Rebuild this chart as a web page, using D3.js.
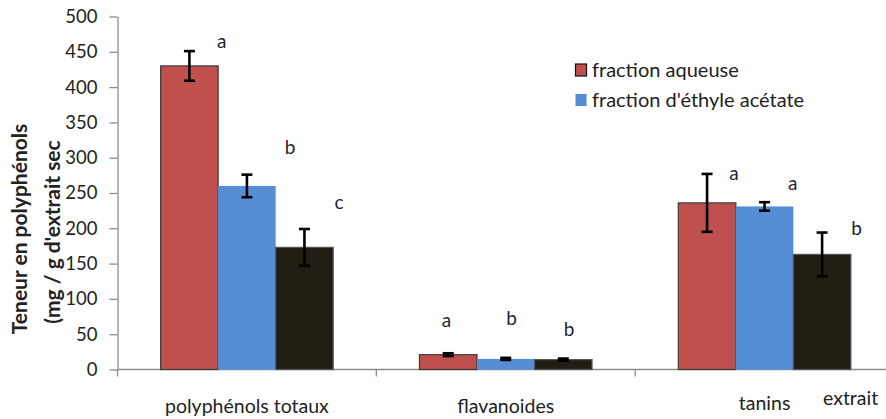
<!DOCTYPE html>
<html>
<head>
<meta charset="utf-8">
<script src="https://cdn.jsdelivr.net/npm/d3@7/dist/d3.min.js"></script>
<style>
  html, body { margin: 0; padding: 0; background: #fff; }
  svg { display: block; font-family: Lato, "Open Sans", sans-serif; }
</style>
</head>
<body>
<svg id="chart" width="886" height="419"></svg>
<script>
// Polyphenol content per extract fraction (mg / g dry extract)
const categories = ["polyphénols totaux", "flavanoides", "tanins"];
const seriesNames = ["fraction aqueuse", "fraction d'éthyle acétate", "extrait"];
const aqueuse = [430, 21, 236];
const ethyleAcetate = [260, 15, 231];
const extrait = [173, 14, 163];
const aqueuseErr = [21, 2, 41];
const ethyleAcetateErr = [16, 1.5, 6];
const extraitErr = [26, 1.5, 31];
// Significance letters and the value height at which each one sits
const aqueuseLetters = ["a", "a", "a"];
const ethyleAcetateLetters = ["b", "b", "a"];
const extraitLetters = ["c", "b", "b"];
const aqueuseLetterAt = [464, 70, 278];
const ethyleAcetateLetterAt = [315, 72, 263];
const extraitLetterAt = [236, 57, 200];
const yTicks = [0, 50, 100, 150, 200, 250, 300, 350, 400, 450, 500];

const series = [
  { name: seriesNames[0], values: aqueuse, err: aqueuseErr, letters: aqueuseLetters, letterAt: aqueuseLetterAt },
  { name: seriesNames[1], values: ethyleAcetate, err: ethyleAcetateErr, letters: ethyleAcetateLetters, letterAt: ethyleAcetateLetterAt },
  { name: seriesNames[2], values: extrait, err: extraitErr, letters: extraitLetters, letterAt: extraitLetterAt }
];
const fills = ["#C0504D", "#558ED5", "#211F14"];
const strokes = ["#3b3b3b", "none", "#555"];
// horizontal nudge of each letter from its bar centre, in bar widths
const letterShift = [[0.56, 0.75, 0.6], [-0.03, 0.1, 0.1], [0.47, 0.49, 0.6]];

const svg = d3.select("#chart");
const textColor = "#222";
const axisColor = "#8c8c8c";

const y = d3.scaleLinear().domain([0, 500]).range([369.5, 16.5]);
const x = d3.scaleBand().domain(categories).range([117.5, 894]).paddingInner(0).paddingOuter(0);
const xs = d3.scaleBand().domain(d3.range(series.length))
  .range([x.bandwidth() / 6, x.bandwidth() * 5 / 6]).padding(0);

// y axis
const yAxis = svg.append("g").attr("transform", `translate(${x.range()[0]},0)`)
  .call(d3.axisLeft(y).tickValues(yTicks).tickSize(8).tickPadding(12).tickSizeOuter(0));
yAxis.select(".domain").attr("stroke", axisColor).attr("stroke-width", 1.3);
yAxis.selectAll(".tick line").attr("stroke", axisColor).attr("stroke-width", 1.3);
yAxis.selectAll(".tick text").attr("fill", textColor).attr("font-size", 18.5).attr("font-family", "Lato, sans-serif");

// x axis baseline and category boundary ticks
const xAxis = svg.append("g").attr("transform", `translate(0,${y(0)})`);
xAxis.append("line").attr("x1", x.range()[0]).attr("x2", x.range()[1])
  .attr("stroke", axisColor).attr("stroke-width", 1.3);
const bounds = categories.map(c => x(c)).concat([x.range()[1]]);
xAxis.selectAll("line.b").data(bounds).join("line").attr("class", "b")
  .attr("x1", d => d).attr("x2", d => d).attr("y1", 0).attr("y2", 7)
  .attr("stroke", axisColor).attr("stroke-width", 1.3);
xAxis.selectAll("text.cat").data(categories).join("text").attr("class", "cat")
  .attr("x", d => x(d) + x.bandwidth() / 2)
  .attr("y", d => d === "tanins" ? 40 : 43)
  .attr("text-anchor", "middle").attr("fill", textColor).attr("font-size", 19.5)
  .text(d => d);

// bars
const groups = svg.append("g").selectAll("g").data(series).join("g");
groups.selectAll("rect").data((s, i) => s.values.map((v, j) => ({ v, j, i })))
  .join("rect")
  .attr("x", d => x(categories[d.j]) + xs(d.i))
  .attr("y", d => y(d.v))
  .attr("width", xs.bandwidth())
  .attr("height", d => y(0) - y(d.v))
  .attr("fill", d => fills[d.i])
  .attr("stroke", d => strokes[d.i])
  .attr("stroke-width", 1.2);

// error bars
const capHalf = 5.5;
const eb = svg.append("g").attr("stroke", "#000").attr("stroke-width", 2.6);
series.forEach((s, i) => {
  s.values.forEach((v, j) => {
    const cx = x(categories[j]) + xs(i) + xs.bandwidth() / 2;
    const top = y(v + s.err[j]), bot = y(v - s.err[j]);
    eb.append("line").attr("x1", cx).attr("x2", cx).attr("y1", top).attr("y2", bot);
    eb.append("line").attr("x1", cx - capHalf).attr("x2", cx + capHalf).attr("y1", top).attr("y2", top);
    eb.append("line").attr("x1", cx - capHalf).attr("x2", cx + capHalf).attr("y1", bot).attr("y2", bot);
  });
});

// significance letters
const lt = svg.append("g");
series.forEach((s, i) => {
  s.letters.forEach((l, j) => {
    const cx = x(categories[j]) + xs(i) + xs.bandwidth() / 2 + letterShift[j][i] * xs.bandwidth();
    lt.append("text").attr("x", cx).attr("y", y(s.letterAt[j]) + 6.5)
      .attr("text-anchor", "middle").attr("font-size", 19).attr("fill", "#1f1f33").text(l);
  });
});

// y axis title, two rotated lines
const titleLines = [
  { text: "Teneur en polyphénols", x: 27, y: 229 },
  { text: "(mg / g d'extrait sec", x: 60, y: 232 }
];
svg.selectAll("text.ytitle").data(titleLines).join("text").attr("class", "ytitle")
  .attr("transform", d => `translate(${d.x},${d.y}) rotate(-90)`)
  .attr("font-weight", "bold").attr("font-size", 21).attr("fill", textColor)
  .attr("text-anchor", "middle").text(d => d.text);

// legend
const legend = svg.append("g");
[0, 1].forEach((i, k) => {
  const ly = 70 + k * 30;
  legend.append("rect").attr("x", 575.5).attr("y", ly - 6).attr("width", 11).attr("height", 12)
    .attr("fill", fills[i]).attr("stroke", i === 0 ? "#111" : "none").attr("stroke-width", 1.2);
  legend.append("text").attr("x", 592).attr("y", ly + 6.5).attr("font-size", 20)
    .attr("fill", textColor).text(seriesNames[i]);
});
// third series name sits beside the last category label
legend.append("text").attr("x", 823).attr("y", 405).attr("font-size", 19.5)
  .attr("fill", textColor).text(seriesNames[2]);
</script>
</body>
</html>
